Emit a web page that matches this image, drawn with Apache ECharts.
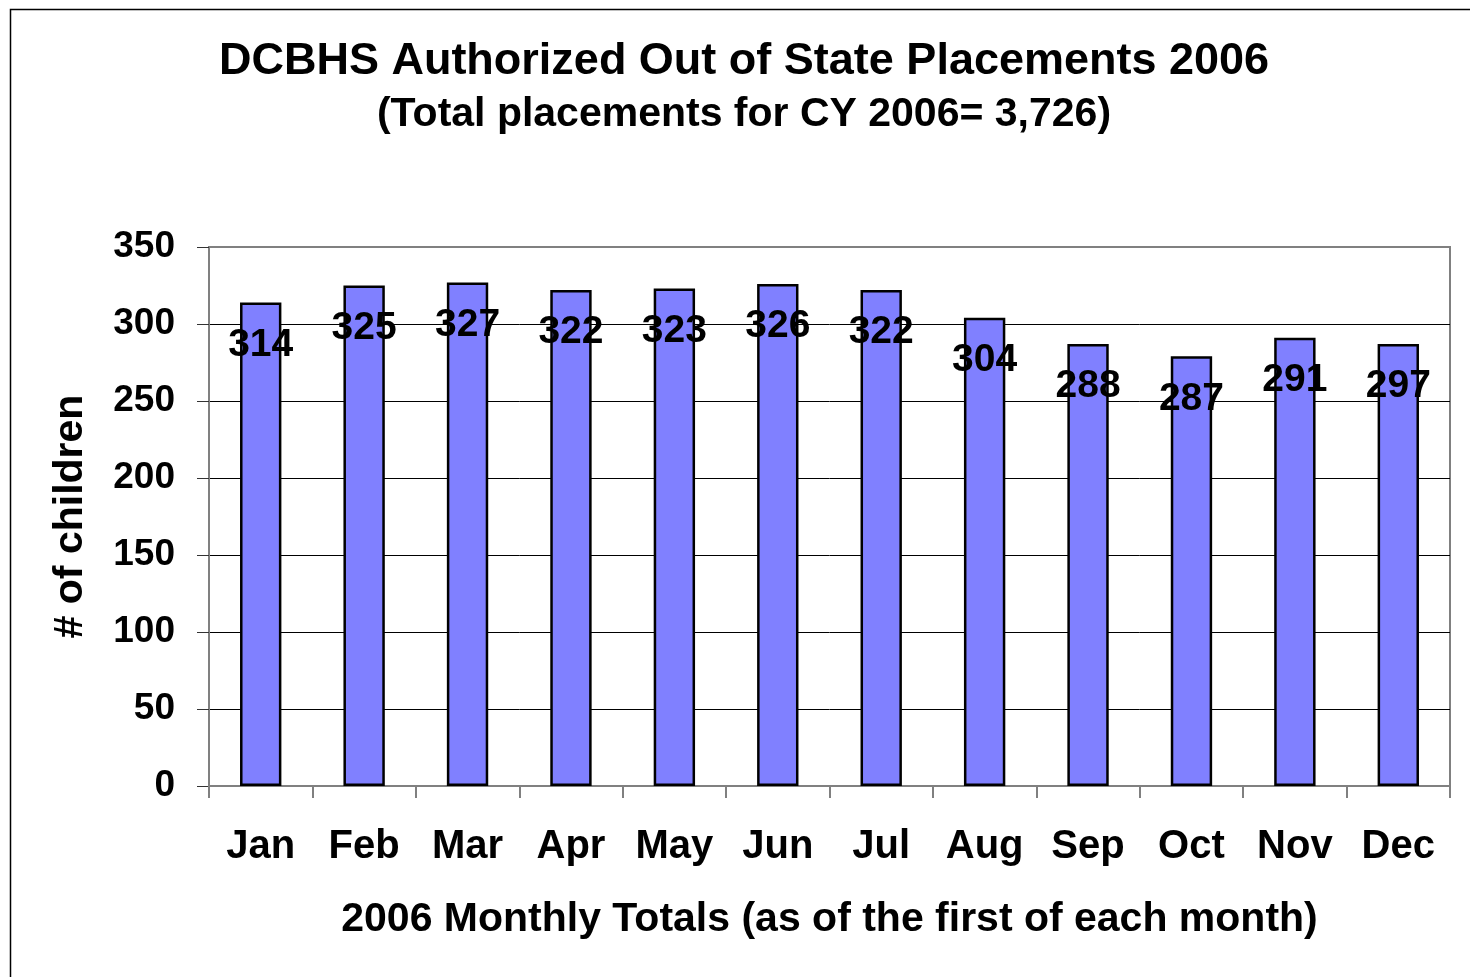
<!DOCTYPE html>
<html>
<head>
<meta charset="utf-8">
<title>DCBHS Authorized Out of State Placements 2006</title>
<script src="https://cdn.jsdelivr.net/npm/echarts@6/dist/echarts.min.js"></script>
<style>
  html, body { margin: 0; padding: 0; background: #fff; }
  #chart { width: 1470px; height: 977px; }
</style>
</head>
<body>
<div id="chart"></div>
<script>
// months on the x axis
const months = ['Jan', 'Feb', 'Mar', 'Apr', 'May', 'Jun', 'Jul', 'Aug', 'Sep', 'Oct', 'Nov', 'Dec'];
// bar heights as drawn in the picture
const barValues = [314, 325, 327, 322, 323, 326, 322, 304, 287, 279, 291, 287];
// the numbers printed on the bars (source text, not always equal to bar height)
const labelValues = [314, 325, 327, 322, 323, 326, 322, 304, 288, 287, 291, 297];
// y axis ticks
const yTicks = [0, 50, 100, 150, 200, 250, 300, 350];

const titleText = 'DCBHS Authorized Out of State Placements 2006';
const subtitleText = '(Total placements for CY 2006= 3,726)';

const font = '"Liberation Sans", Arial, sans-serif';

const chart = echarts.init(document.getElementById('chart'), null, { renderer: 'canvas' });

// gridlines black, the top one (at max) stays gray like the plot border
const gridColors = yTicks.map((t, i) => (i === yTicks.length - 1 ? '#808080' : '#000'));

const option = {
  backgroundColor: '#ffffff',
  animation: false,
  graphic: [
    {
      // outer frame of the chart (cut off at right and bottom)
      type: 'rect',
      left: 8,
      top: 7,
      shape: { width: 1500, height: 1000 },
      style: { fill: 'none', stroke: '#000', lineWidth: 1.5 },
      silent: true
    },
    {
      type: 'text',
      x: 744,
      y: 39,
      style: {
        text: titleText,
        align: 'center',
        verticalAlign: 'top',
        font: 'bold 45px ' + font,
        fill: '#000'
      }
    },
    {
      type: 'text',
      x: 744,
      y: 94,
      style: {
        text: subtitleText,
        align: 'center',
        verticalAlign: 'top',
        font: 'bold 41px ' + font,
        fill: '#000'
      }
    }
  ],
  grid: {
    left: 209,
    right: 20,
    top: 247,
    bottom: 191,
    show: true,
    borderColor: '#808080',
    borderWidth: 2,
    backgroundColor: 'transparent'
  },
  xAxis: {
    type: 'category',
    data: months,
    name: '2006 Monthly Totals (as of the first of each month)',
    nameLocation: 'middle',
    nameGap: 113,
    nameTextStyle: { fontFamily: font, fontWeight: 'bold', fontSize: 41, color: '#000' },
    axisLine: { lineStyle: { color: '#808080', width: 2 } },
    axisTick: { show: true, length: 12, lineStyle: { color: '#808080', width: 2 } },
    axisLabel: { fontFamily: font, fontWeight: 'bold', fontSize: 40, color: '#000', margin: 41 }
  },
  yAxis: {
    type: 'value',
    min: yTicks[0],
    max: yTicks[yTicks.length - 1],
    interval: 50,
    name: '# of children',
    nameLocation: 'middle',
    nameGap: 118,
    nameRotate: 90,
    nameTextStyle: { fontFamily: font, fontWeight: 'bold', fontSize: 41, color: '#000' },
    axisLine: { show: true, lineStyle: { color: '#808080', width: 2 } },
    axisTick: { show: true, length: 12, lineStyle: { color: '#333', width: 1 } },
    axisLabel: { fontFamily: font, fontWeight: 'bold', fontSize: 37, color: '#000', margin: 34 },
    splitLine: { show: true, lineStyle: { color: gridColors, width: 1 } }
  },
  series: [
    {
      type: 'bar',
      data: barValues,
      barWidth: '40%',
      itemStyle: { color: '#8080ff', borderColor: '#000', borderWidth: 2.5 },
      label: {
        show: true,
        position: 'insideTop',
        distance: 23,
        fontFamily: font,
        fontWeight: 'bold',
        fontSize: 39,
        color: '#000',
        formatter: (p) => String(labelValues[p.dataIndex])
      }
    }
  ]
};

chart.setOption(option);
</script>
</body>
</html>
